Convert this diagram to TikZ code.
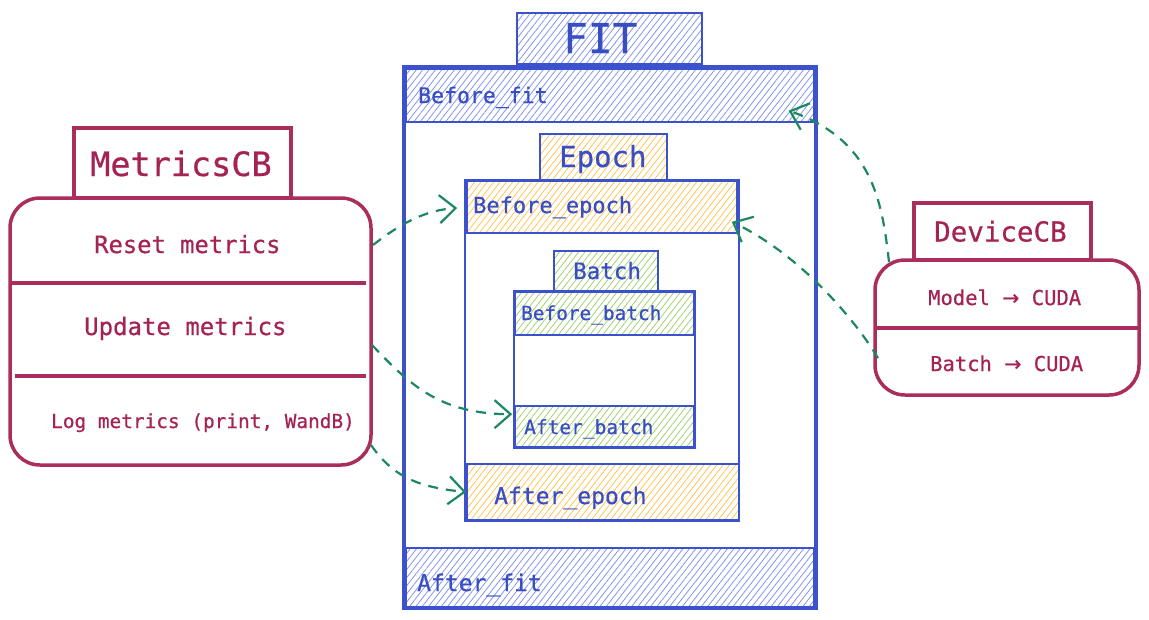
\documentclass[tikz,border=0pt]{standalone}
\usepackage{fontspec}
\setmainfont[FakeBold=0.6]{DejaVu Sans Mono}
\newfontfamily\arrfont[FakeBold=0.6]{DejaVu Sans}
\usetikzlibrary{patterns.meta,arrows.meta,calc}
\definecolor{fitblue}{RGB}{60,82,204}
\definecolor{txtblue}{RGB}{58,78,196}
\definecolor{hblue}{RGB}{125,145,235}
\definecolor{horange}{RGB}{255,195,75}
\definecolor{hgreen}{RGB}{155,210,105}
\definecolor{crim}{RGB}{170,45,92}
\definecolor{crimtxt}{RGB}{165,35,82}
\definecolor{arrgreen}{RGB}{28,135,96}
\begin{document}
\begin{tikzpicture}[x=1pt,y=-1pt,
  box/.style={rectangle, inner sep=0pt, draw=fitblue},
  hatchb/.style={box, line width=1.3pt, pattern={Lines[angle=52,distance=5pt,line width=0.75pt]}, pattern color=hblue},
  hatcho/.style={box, line width=1.6pt, pattern={Lines[angle=52,distance=5pt,line width=0.75pt]}, pattern color=horange},
  hatchg/.style={box, line width=1.6pt, pattern={Lines[angle=52,distance=5pt,line width=0.75pt]}, pattern color=hgreen},
  btxt/.style={text=txtblue, inner sep=0pt, anchor=base west},
  ctxt/.style={text=crimtxt, inner sep=0pt, anchor=base west},
  cbox/.style={rectangle, inner sep=0pt, draw=crim, line width=3.5pt},
  cround/.style={cbox, rounded corners=30pt},
  conn/.style={draw=arrgreen, line width=2.2pt, dash pattern=on 10pt off 8pt,
    -{Straight Barb[length=16pt,width=28pt,line width=2.2pt]}}
]
\useasboundingbox (0,0) rectangle (1149,619);
\fill[white] (0,0) rectangle (1149,619);

% ---- FIT column ----
\node[hatchb, minimum width=185pt, minimum height=51pt] (fittitle) at (609.5,38.5) {};
\node[hatchb, minimum width=408pt, minimum height=53pt] (bfit) at (610,95.5) {};
\node[hatchb, minimum width=408pt, minimum height=59pt] (afit) at (610,577.5) {};
\node[box, line width=3.2pt, minimum width=412pt, minimum height=541pt] (fitbox) at (610,337.5) {};

\node[box, line width=2pt, minimum width=274pt, minimum height=341pt] (epochbox) at (602,350.5) {};
\node[hatcho, minimum width=127pt, minimum height=46pt] (epochtitle) at (603.5,157) {};
\node[hatcho, minimum width=270pt, minimum height=52pt] (bepoch) at (602,207) {};
\node[hatcho, minimum width=272pt, minimum height=56pt] (aepoch) at (603,492) {};

\node[box, line width=2.6pt, minimum width=181pt, minimum height=157pt] (batchbox) at (604.5,369.5) {};
\node[hatchg, minimum width=104pt, minimum height=40pt] (batchtitle) at (606,271) {};
\node[hatchg, minimum width=179pt, minimum height=43pt] (bbatch) at (604.5,313.5) {};
\node[hatchg, minimum width=179pt, minimum height=41pt] (abatch) at (604.5,426.5) {};

\node[btxt, font=\fontsize{41}{41}\selectfont] (tfit) at (563,53) {FIT};
\node[btxt, font=\fontsize{21.5}{21.5}\selectfont] (tbfit) at (418,103) {Before\_fit};
\node[btxt, font=\fontsize{29}{29}\selectfont] (tepoch) at (559,167) {Epoch};
\node[btxt, font=\fontsize{22}{22}\selectfont] (tbepoch) at (473,213) {Before\_epoch};
\node[btxt, font=\fontsize{22.5}{22.5}\selectfont] (tbatch) at (573,279) {Batch};
\node[btxt, font=\fontsize{19.4}{19.4}\selectfont] (tbbatch) at (521,320) {Before\_batch};
\node[btxt, font=\fontsize{19.5}{19.5}\selectfont] (tabatch) at (524,434) {After\_batch};
\node[btxt, font=\fontsize{23}{23}\selectfont] (taepoch) at (494,504) {After\_epoch};
\node[btxt, font=\fontsize{23}{23}\selectfont] (tafit) at (417,591) {After\_fit};

% ---- MetricsCB ----
\node[cbox, minimum width=217pt, minimum height=70pt] (mtitle) at (182.5,163) {};
\node[cround, minimum width=361pt, minimum height=267pt] (metrics) at (190.5,331.5) {};
\draw[crim, line width=3.5pt] (12,283) -- (366,283);
\draw[crim, line width=3.5pt] (15,376) -- (366,376);
\node[ctxt, font=\fontsize{33.5}{33.5}\selectfont] (tmetrics) at (90,176) {MetricsCB};
\node[ctxt, font=\fontsize{23.8}{23.8}\selectfont] (treset) at (94,253) {Reset metrics};
\node[ctxt, font=\fontsize{24}{24}\selectfont] (tupdate) at (84,335) {Update metrics};
\node[ctxt, font=\fontsize{19.4}{19.4}\selectfont] (tlog) at (51,428) {Log metrics (print, WandB)};

% ---- DeviceCB ----
\node[cbox, minimum width=177pt, minimum height=57pt] (dtitle) at (1002.5,231.5) {};
\node[cround, minimum width=264pt, minimum height=135pt] (device) at (1007,327.5) {};
\draw[crim, line width=3.5pt] (876,328) -- (1138,328);
\node[ctxt, font=\fontsize{27.5}{27.5}\selectfont] (tdevice) at (934,241.5) {DeviceCB};
\node[ctxt, font=\fontsize{20.5}{20.5}\selectfont] (tmodel) at (928,305) {Model {\arrfont→} CUDA};
\node[ctxt, font=\fontsize{20.5}{20.5}\selectfont] (tbatchc) at (930,371) {Batch {\arrfont→} CUDA};

% ---- connectors ----
\coordinate (mreset) at (373,245);
\coordinate (mupdate) at (372,345);
\coordinate (mlog) at (371,445);
\coordinate (dmodel) at (889,262);
\coordinate (dbatch) at (878,358);

\draw[conn] (mreset) .. controls (400,224) and (425,210) .. ($(bepoch.west)+(-9,1)$);
\draw[conn] (mupdate) .. controls (410,385) and (440,414) .. ($(abatch.north west)+(-2,9)$);
\draw[conn] (mlog) .. controls (392,475) and (415,487) .. (aepoch.west);
\draw[conn] (dmodel) .. controls (882,200) and (872,140) .. ($(bfit.south east)+(-26,-12)$);
\draw[conn] (dbatch) .. controls (850,312) and (795,252) .. ($(bepoch.south east)+(-6,-12)$);
\end{tikzpicture}
\end{document}
